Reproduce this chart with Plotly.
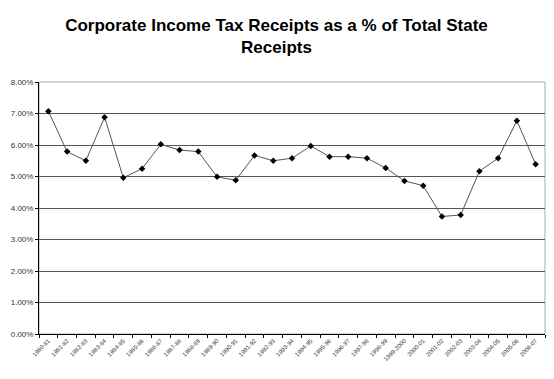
import plotly.graph_objects as go

years = ["1980-81","1981-82","1982-83","1983-84","1984-85","1985-86","1986-87","1987-88",
         "1988-89","1989-90","1990-91","1991-92","1992-93","1993-94","1994-95","1995-96",
         "1996-97","1997-98","1998-99","1999-2000","2000-01","2001-02","2002-03","2003-04",
         "2004-05","2005-06","2006-07"]
share = [7.07, 5.79, 5.50, 6.88, 4.96, 5.25, 6.02, 5.84, 5.79, 4.99, 4.88, 5.67, 5.50,
         5.58, 5.97, 5.63, 5.63, 5.58, 5.27, 4.86, 4.71, 3.73, 3.78, 5.17, 5.58, 6.77, 5.39]
y_ticks = [0, 1, 2, 3, 4, 5, 6, 7, 8]
y_labels = ["0.00%", "1.00%", "2.00%", "3.00%", "4.00%", "5.00%", "6.00%", "7.00%", "8.00%"]

fig = go.Figure()
fig.add_trace(go.Scatter(
    x=years, y=share, mode="lines+markers",
    line=dict(color="#555555", width=1),
    marker=dict(symbol="diamond", size=5, color="black"),
    showlegend=False,
))

fig.update_layout(
    width=554, height=379,
    margin=dict(l=39, r=9, t=82, b=45),
    paper_bgcolor="white", plot_bgcolor="white",
    font=dict(family="Liberation Sans, Arial, sans-serif", color="black"),
    title=dict(
        text="<b>Corporate Income Tax Receipts as a % of Total State<br>Receipts</b>",
        x=276.5 / 554, xanchor="center", xref="container",
        yref="container", y=1 - 31 / 379, yanchor="top",
        font=dict(size=17, family="Liberation Sans, Arial, sans-serif", color="black"),
    ),
    xaxis=dict(
        type="category", range=[-0.5, len(years) - 0.5], automargin=False,
        tickson="boundaries", ticks="outside", ticklen=3, tickcolor="black",
        tickangle=-45, tickfont=dict(size=6, color="#333333"),
        showline=True, linecolor="black", linewidth=1,
        showgrid=False, zeroline=False,
    ),
    yaxis=dict(
        range=[0, 8], tickvals=y_ticks, ticktext=y_labels, automargin=False,
        ticks="outside", ticklen=3, tickcolor="black",
        tickfont=dict(size=8, color="#333333"),
        showline=True, linecolor="black", linewidth=1,
        showgrid=True, gridcolor="#555555", gridwidth=1, zeroline=False,
    ),
    shapes=[dict(type="rect", xref="paper", yref="paper", x0=0, x1=1, y0=0, y1=1,
                 line=dict(color="#aaaaaa", width=1), layer="below")],
)

fig.write_html("out.html", config={"displayModeBar": False},
               post_script="document.body.style.margin='0';document.body.style.padding='0';")
